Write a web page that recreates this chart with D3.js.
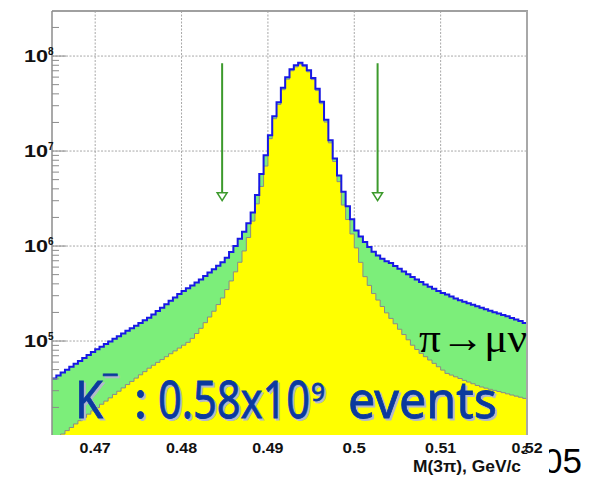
<!DOCTYPE html>
<html><head><meta charset="utf-8">
<script src="https://cdn.jsdelivr.net/npm/d3@7"></script>
<style>body{margin:0;background:#fff} svg{display:block}</style>
</head><body>
<svg id="chart" width="597" height="477"></svg>
<script>
// 110 bins of 0.5 MeV, M(3pi) from 0.465 to 0.520 GeV
var binLo = 0.465, binW = 0.0005;

// all K- -> 3pi candidates (blue outline)
var total = [
40400, 43400, 46500, 49900, 53600, 57500, 61800, 66400, 71300, 76600,
81800, 87300, 93100, 99100, 105700, 112500, 120000, 128000, 136000, 145000,
154500, 165000, 176000, 190000, 207000, 224000, 244000, 265000, 288000, 313000,
336000, 360000, 385000, 414000, 445000, 484000, 526000, 571000, 621000, 676000,
753000, 865000, 998000, 1.19e6, 1.41e6, 1.74e6, 2.26e6, 3.44e6, 5.73e6, 9.04e6,
1.47e7, 2.33e7, 3.27e7, 4.63e7, 5.97e7, 7.28e7, 7.98e7, 8.51e7, 8.02e7, 7.08e7,
5.89e7, 4.52e7, 3.31e7, 2.14e7, 1.30e7, 8.36e6, 5.52e6, 3.72e6, 2.63e6, 1.91e6,
1.46e6, 1.26e6, 1.10e6, 977000, 871000, 794000, 736000, 692000, 661000, 617000,
578000, 540000, 505000, 471000, 444000, 419000, 394000, 372000, 355000, 337000,
321000, 308000, 294000, 281000, 269000, 259000, 250000, 241000, 232000, 224000,
216000, 208000, 201000, 195000, 188000, 182000, 175000, 169000, 162000, 155000
];

// without pi -> mu nu decays (yellow)
var signal = [
9000, 9730, 10500, 11400, 12300, 13400, 14500, 15700, 17000, 18400,
19900, 21600, 23300, 25200, 27400, 29600, 32100, 34800, 37600, 40700,
44100, 47600, 51800, 55600, 59600, 63800, 68400, 73500, 78700, 84300,
90400, 96800, 106700, 120000, 136000, 156000, 179000, 206000, 242000, 284000,
348000, 429000, 535000, 675000, 887000, 1.23e6, 1.83e6, 2.78e6, 4.24e6, 6.95e6,
1.35e7, 2.19e7, 3.09e7, 4.42e7, 5.71e7, 7.00e7, 7.69e7, 8.22e7, 7.74e7, 6.82e7,
5.65e7, 4.33e7, 3.15e7, 2.02e7, 1.22e7, 7.76e6, 4.76e6, 2.70e6, 1.90e6, 1.34e6,
955000, 673000, 476000, 385000, 316000, 270000, 231000, 198000, 173000, 152000,
133000, 117000, 103000, 90400, 81500, 74100, 68400, 63100, 58200, 53600,
49400, 45600, 43800, 42000, 40300, 38500, 37000, 35500, 34000, 32800,
31900, 31000, 30200, 29400, 28600, 27800, 27000, 26300, 25600, 24900
];

var xTicks = [0.47, 0.48, 0.49, 0.5, 0.51, 0.52];
var xTickLabels = ["0.47", "0.48", "0.49", "0.5", "0.51", "0.52"];
var yDecades = [5, 6, 7, 8];
var cuts = [0.4847, 0.5027];         // mass window arrows
var arrowTop = 8.4e7, arrowTip = 3.0e6;

var svg = d3.select("#chart");
var L = 52, R = 527, T = 11, B = 435;

var x = d3.scaleLinear().domain([0.465, 0.52]).range([L, R]);
var y = d3.scaleLog().domain([1.025e4, 2.98e8]).range([B, T]);

svg.append("defs").append("clipPath").attr("id", "plot")
  .append("rect").attr("x", L).attr("y", T).attr("width", R - L).attr("height", B - T);
svg.select("defs").append("clipPath").attr("id", "pg")
  .append("rect").attr("x", 549).attr("y", 430).attr("width", 60).attr("height", 60);

// grid
var grid = svg.append("g").attr("stroke", "#a8a8a8").attr("stroke-dasharray", "2,1.5").attr("stroke-width", 1);
grid.selectAll("line.v").data(xTicks.slice(0, -1)).enter().append("line")
  .attr("x1", d => x(d)).attr("x2", d => x(d)).attr("y1", T).attr("y2", B);
grid.selectAll("line.h").data(yDecades).enter().append("line")
  .attr("x1", L).attr("x2", R).attr("y1", d => y(Math.pow(10, d))).attr("y2", d => y(Math.pow(10, d)));

// histograms as steps
function steps(arr) {
  var pts = arr.map((v, i) => [binLo + i * binW, v]);
  pts.push([binLo + arr.length * binW, arr[arr.length - 1]]);
  return pts;
}
var area = d3.area().curve(d3.curveStepAfter).x(d => x(d[0])).y0(B + 5).y1(d => y(d[1]));
var line = d3.line().curve(d3.curveStepAfter).x(d => x(d[0])).y(d => y(d[1]));

var h = svg.append("g").attr("clip-path", "url(#plot)");
h.append("path").attr("d", area(steps(total))).attr("fill", "#7cee7a");
h.append("path").attr("d", area(steps(signal))).attr("fill", "#ffff00");
h.append("path").attr("d", line(steps(signal))).attr("fill", "none").attr("stroke", "#8a8a8a").attr("stroke-width", 1);
h.append("path").attr("d", line(steps(total))).attr("fill", "none").attr("stroke", "#1818e6").attr("stroke-width", 2);

// frame
svg.append("line").attr("x1", L).attr("x2", R + 1).attr("y1", T).attr("y2", T).attr("stroke", "#a0a0a0").attr("stroke-width", 2);
svg.append("line").attr("x1", R).attr("x2", R).attr("y1", T).attr("y2", B).attr("stroke", "#a8a8a8").attr("stroke-width", 2);
svg.append("line").attr("x1", L).attr("x2", L).attr("y1", T).attr("y2", B).attr("stroke", "#8c8c8c").attr("stroke-width", 1.5);

// y ticks (log minor ticks inside)
var minor = [];
[4, 5, 6, 7, 8].forEach(function(e) {
  for (var k = 1; k <= 9; k++) {
    var v = k * Math.pow(10, e);
    if (v >= y.domain()[0] && v <= y.domain()[1]) minor.push(v);
  }
});
svg.append("g").selectAll("line").data(minor).enter().append("line")
  .attr("x1", L).attr("x2", d => (Math.abs(Math.log10(d) % 1) < 1e-9 ? L + 14 : L + 7))
  .attr("y1", d => y(d)).attr("y2", d => y(d))
  .attr("stroke", "#8c8c8c").attr("stroke-width", 1);

var yl = svg.append("g").attr("font-family", "Liberation Sans, Arial, sans-serif").attr("font-weight", "bold").attr("fill", "#111");
yl.selectAll("text.b").data(yDecades).enter().append("text")
  .attr("x", 48).attr("y", d => y(Math.pow(10, d)) + 6).attr("text-anchor", "end")
  .attr("font-size", 16).attr("textLength", 24).attr("lengthAdjust", "spacingAndGlyphs").text("10");
yl.selectAll("text.e").data(yDecades).enter().append("text")
  .attr("x", 48).attr("y", d => y(Math.pow(10, d)) - 1)
  .attr("font-size", 10).text(d => d);

// x tick labels
svg.append("g").selectAll("text").data(xTicks).enter().append("text")
  .attr("x", (d, i) => x(d) - xTickLabels[i].length * 3.9).attr("y", 453)
  .attr("font-family", "Liberation Sans, Arial, sans-serif").attr("font-weight", "bold").attr("font-size", 14)
  .attr("textLength", (d, i) => xTickLabels[i].length * 7.8).attr("lengthAdjust", "spacingAndGlyphs").attr("fill", "#111")
  .text((d, i) => xTickLabels[i]);

// axis title
svg.append("text").attr("x", 413).attr("y", 472)
  .attr("font-family", "Liberation Sans, Arial, sans-serif").attr("font-weight", "bold").attr("font-size", 16)
  .attr("textLength", 108).attr("lengthAdjust", "spacingAndGlyphs")
  .attr("fill", "#111").text("M(3π), GeV/c");
svg.append("text").attr("x", 522).attr("y", 454)
  .attr("font-family", "Liberation Sans, Arial, sans-serif").attr("font-weight", "bold").attr("font-size", 10)
  .attr("fill", "#111").text("2");

// mass window arrows
var ar = svg.append("g").attr("stroke", "#3c9a2c").attr("stroke-width", 2);
ar.selectAll("line").data(cuts).enter().append("line")
  .attr("x1", d => x(d)).attr("x2", d => x(d))
  .attr("y1", y(arrowTop)).attr("y2", y(arrowTip) - 8);
ar.selectAll("path").data(cuts).enter().append("path")
  .attr("d", d => "M" + (x(d) - 5) + "," + (y(arrowTip) - 8) + "L" + (x(d) + 5) + "," + (y(arrowTip) - 8) + "L" + x(d) + "," + y(arrowTip) + "Z")
  .attr("fill", "#fff").attr("stroke-width", 1.5);

// pi -> mu nu label
svg.append("text").attr("x", 419).attr("y", 352)
  .attr("font-family", "Liberation Serif, Times New Roman, serif").attr("font-size", 42)
  .attr("textLength", 108).attr("lengthAdjust", "spacingAndGlyphs").attr("fill", "#000")
  .text("π→μν");

// big statistics label with shadow
var bits = [
  {t: "K", x: 75, y: 418, s: 51, w: 28},
  {t: "−", x: 102, y: 384, s: 26, w: 17},
  {t: ":", x: 134, y: 418, s: 51, w: 13},
  {t: "0.58x10", x: 158, y: 418, s: 51, w: 152},
  {t: "9", x: 311, y: 401, s: 26, w: 14},
  {t: "events", x: 348, y: 418, s: 51, w: 149}
];
[[2, 2, "#b4b8cc"], [0, 0, "#0b3a9e"]].forEach(function(o) {
  svg.append("g").attr("transform", "translate(" + o[0] + "," + o[1] + ")")
    .selectAll("text").data(bits).enter().append("text")
    .attr("x", d => d.x).attr("y", d => d.y).attr("font-size", d => d.s)
    .attr("textLength", d => d.w).attr("lengthAdjust", "spacingAndGlyphs")
    .attr("font-family", "Noto Sans, Open Sans, sans-serif").attr("fill", o[2])
    .attr("stroke", o[2]).attr("stroke-width", 0.8)
    .text(d => d.t);
});

// slide page number, partly hidden
svg.append("text").attr("x", 543).attr("y", 473).attr("clip-path", "url(#pg)")
  .attr("font-family", "Liberation Sans, Arial, sans-serif").attr("font-size", 35).attr("fill", "#000")
  .text("05");
</script>
</body></html>
